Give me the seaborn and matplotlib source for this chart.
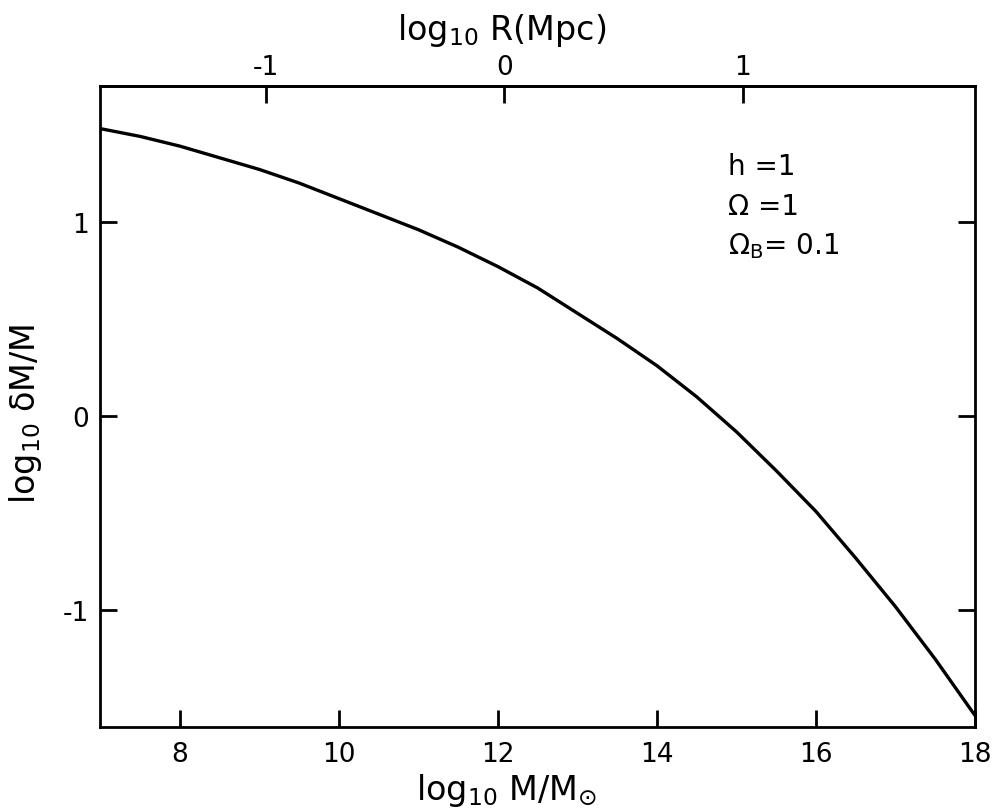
import matplotlib
matplotlib.use("Agg")
import matplotlib.pyplot as plt
import seaborn as sns
import numpy as np
import pandas as pd

# Data
log_mass = [7.0, 7.5, 8.0, 8.5, 9.0, 9.5, 10.0, 10.5, 11.0, 11.5, 12.0, 12.5,
            13.0, 13.5, 14.0, 14.5, 15.0, 15.5, 16.0, 16.5, 17.0, 17.5, 18.0]
log_delta = [1.48, 1.44, 1.39, 1.33, 1.27, 1.20, 1.12, 1.04, 0.96, 0.87, 0.77, 0.66,
             0.53, 0.40, 0.26, 0.10, -0.08, -0.28, -0.49, -0.73, -0.98, -1.25, -1.54]
x_ticks = [8, 10, 12, 14, 16, 18]
y_ticks = [-1, 0, 1]
r_ticks = [-1, 0, 1]
params = ["h =1", "Ω =1", "Ω$_B$= 0.1"]
mass_offset = 12.08  # log10 M at R = 1 Mpc

sns.set_style("ticks")
plt.rcParams['font.family'] = ['DejaVu Sans']
plt.rcParams['axes.unicode_minus'] = False
plt.rcParams['mathtext.default'] = 'regular'
plt.rcParams['xtick.direction'] = 'in'
plt.rcParams['ytick.direction'] = 'in'
for k in ['text.color', 'axes.labelcolor', 'xtick.color', 'ytick.color', 'axes.edgecolor']:
    plt.rcParams[k] = 'black'

fig = plt.figure(figsize=(10.03, 8.12), dpi=100)
ax = fig.add_axes([0.100, 0.1034, 0.872, 0.7896])

df = pd.DataFrame({"logM": log_mass, "logd": log_delta})
sns.lineplot(data=df, x="logM", y="logd", color="black", linewidth=2.4, ax=ax)

ax.set_xlim(7, 18)
ax.set_ylim(-1.6, 1.7)
ax.set_xticks(x_ticks)
ax.set_yticks(y_ticks)

for s in ax.spines.values():
    s.set_linewidth(2.0)
    s.set_color("black")

ax.tick_params(axis="both", which="major", direction="in", length=12, width=2,
               labelsize=19, color="black")
ax.tick_params(axis="x", pad=10, top=False)
ax.tick_params(axis="y", pad=8, right=True, labelright=False)

secax = ax.secondary_xaxis("top", functions=(lambda m: (m - mass_offset) / 3.0,
                                             lambda r: 3.0 * r + mass_offset))
secax.set_xticks(r_ticks)
secax.tick_params(axis="x", direction="in", length=12, width=2, labelsize=19, pad=4)
secax.spines["top"].set_linewidth(2.0)

ax.set_xlabel("log$_{10}$ M/M$_{\\odot}$", fontsize=24)
ax.xaxis.label.set_va("center")
ax.xaxis.set_label_coords(0.465, -0.097)

ax.set_ylabel("log$_{10}$ δM/M", fontsize=24)
ax.yaxis.label.set_va("center")
ax.yaxis.set_label_coords(-0.086, 0.49)

ax.text(0.459, 1.088, "log$_{10}$ R(Mpc)", transform=ax.transAxes, fontsize=24,
        ha="center", va="center")

for i, t in enumerate(params):
    ax.text(0.718, 0.875 - i * 0.062, t, transform=ax.transAxes, fontsize=20,
            ha="left", va="center")

fig.savefig("out.png", dpi=100, facecolor="white")
